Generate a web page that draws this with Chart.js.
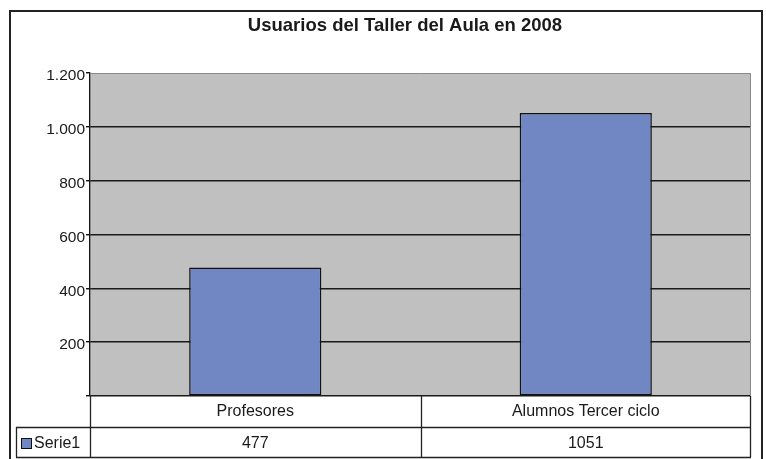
<!DOCTYPE html>
<html>
<head>
<meta charset="utf-8">
<script src="https://cdn.jsdelivr.net/npm/chart.js@4/dist/chart.umd.min.js"></script>
<style>
  html, body { margin: 0; padding: 0; background: #fff; }
  #wrap { width: 766px; height: 459px; position: relative; }
</style>
</head>
<body>
<div id="wrap"><canvas id="chart"></canvas></div>
<script>
// datos
const chartTitle = 'Usuarios del Taller del Aula en 2008';
const categories = ['Profesores', 'Alumnos Tercer ciclo'];
const seriesName = 'Serie1';
const values     = [477, 1051];
const yTicks     = [0, 200, 400, 600, 800, 1000, 1200];

const BAR_COLOR = '#7187c3';
const FONT = '"Liberation Sans", Arial, sans-serif';

function fmt(v) {
    return v.toString().replace(/\B(?=(\d{3})+(?!\d))/g, '.');
}

// fondo gris, título, marco y tabla de datos
const excelPlugin = {
    id: 'excel',
    beforeDraw(chart) {
        const { ctx, chartArea: a } = chart;
        ctx.save();
        ctx.fillStyle = '#c0c0c0';
        ctx.fillRect(a.left, a.top, a.right - a.left, a.bottom - a.top);
        ctx.restore();
    },
    afterDraw(chart) {
        const { ctx, chartArea: a, scales } = chart;
        const x = scales.x;
        ctx.save();

        // borde del área
        ctx.strokeStyle = '#8a8a8a';
        ctx.lineWidth = 1;
        ctx.beginPath();
        ctx.moveTo(a.left, a.top + 0.5);
        ctx.lineTo(a.right - 0.5, a.top + 0.5);
        ctx.lineTo(a.right - 0.5, a.bottom);
        ctx.stroke();

        // título
        ctx.fillStyle = '#1a1a1a';
        ctx.font = 'bold 18.5px ' + FONT;
        ctx.textAlign = 'center';
        ctx.textBaseline = 'middle';
        ctx.fillText(chartTitle, 405, 26);

        // tabla
        const row1 = Math.round(a.bottom), row2 = row1 + 31, row3 = row2 + 30;
        const tLeft = 16;
        ctx.strokeStyle = '#222';
        ctx.lineWidth = 1.3;
        ctx.beginPath();
        ctx.moveTo(tLeft, row2 + 0.5); ctx.lineTo(a.right, row2 + 0.5);
        ctx.moveTo(tLeft, row3 + 0.5); ctx.lineTo(a.right, row3 + 0.5);
        ctx.moveTo(tLeft + 0.5, row2); ctx.lineTo(tLeft + 0.5, row3);
        ctx.moveTo(a.left + 0.5, row1); ctx.lineTo(a.left + 0.5, row3);
        ctx.moveTo(a.right - 0.5, row1); ctx.lineTo(a.right - 0.5, row3);
        for (let i = 1; i < categories.length; i++) {
            const xd = Math.round((x.getPixelForValue(i - 1) + x.getPixelForValue(i)) / 2) + 0.5;
            ctx.moveTo(xd, row1); ctx.lineTo(xd, row3);
        }
        ctx.stroke();

        ctx.font = '16px ' + FONT;
        ctx.fillStyle = '#1a1a1a';
        ctx.textAlign = 'center';
        categories.forEach((c, i) => {
            const cx = x.getPixelForValue(i);
            ctx.fillText(c, cx, (row1 + row2) / 2);
            ctx.fillText(String(values[i]), cx, (row2 + row3) / 2 + 1.5);
        });

        // leyenda
        ctx.fillStyle = BAR_COLOR;
        ctx.fillRect(21, row2 + 11, 10, 10);
        ctx.strokeStyle = '#111';
        ctx.lineWidth = 1;
        ctx.strokeRect(21.5, row2 + 11.5, 10, 10);
        ctx.fillStyle = '#1a1a1a';
        ctx.textAlign = 'left';
        ctx.fillText(seriesName, 34, (row2 + row3) / 2 + 2);

        // marco exterior
        ctx.strokeStyle = '#222';
        ctx.lineWidth = 2;
        ctx.strokeRect(10, 11, 752, 500);
        ctx.restore();
    }
};

new Chart(document.getElementById('chart').getContext('2d'), {
    type: 'bar',
    data: {
        labels: categories,
        datasets: [{
            label: seriesName,
            data: values,
            backgroundColor: BAR_COLOR,
            borderColor: '#111',
            borderWidth: 1.5,
            borderSkipped: false,
            categoryPercentage: 1,
            barPercentage: 0.4
        }]
    },
    plugins: [excelPlugin],
    options: {
        responsive: true,
        maintainAspectRatio: false,
        animation: false,
        layout: { padding: { top: 73, bottom: 63, right: 15, left: 0 } },
        plugins: {
            legend: { display: false },
            title: { display: false },
            tooltip: { enabled: false }
        },
        scales: {
            x: { display: false },
            y: {
                min: 0,
                max: 1200,
                afterFit(scale) { scale.width = 90; },
                afterBuildTicks(scale) { scale.ticks = yTicks.map(v => ({ value: v })); },
                border: { display: true, color: '#111', width: 1.3 },
                grid: {
                    color: c => c.tick && c.tick.value === 1200 ? 'rgba(0,0,0,0)' : '#1a1a1a',
                    tickColor: '#111',
                    tickLength: 4,
                    lineWidth: 1.4
                },
                ticks: {
                    padding: 1,
                    labelOffset: 3,
                    color: '#1a1a1a',
                    font: { family: FONT, size: 15.5 },
                    callback: v => v === 0 ? '' : fmt(v)
                }
            }
        }
    }
});
</script>
</body>
</html>
